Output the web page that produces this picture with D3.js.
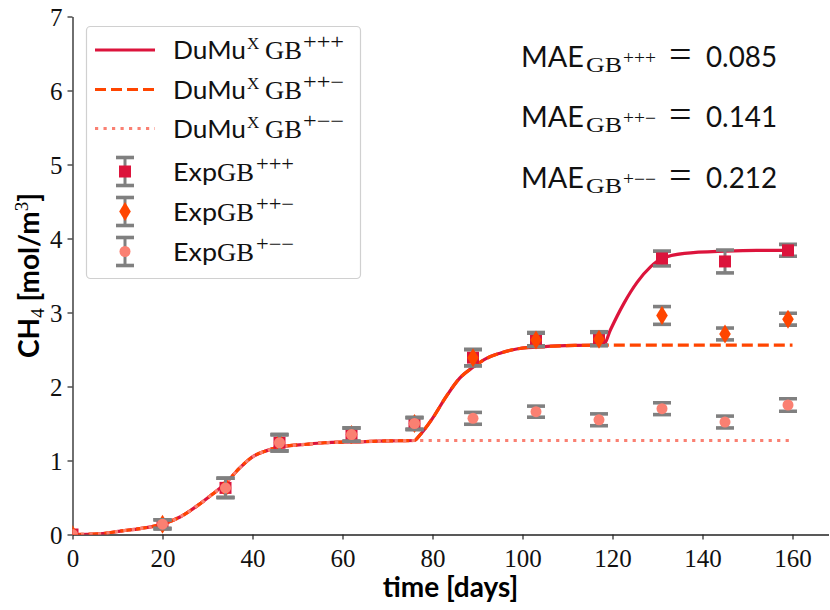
<!DOCTYPE html>
<html><head><meta charset="utf-8">
<script src="https://cdn.jsdelivr.net/npm/d3@7"></script>
<style>body{margin:0;background:#fff}</style>
</head><body>
<svg id="chart" width="830" height="610"></svg>
<script>
// ---- data ----
const days    = [0, 20, 34, 46, 62, 76, 89, 103, 117, 131, 145, 159];
const expPPP  = [0, 0.14, 0.63, 1.24, 1.35, 1.50, 2.39, 2.64, 2.65, 3.73, 3.69, 3.84];
const errPPP  = [0.02, 0.06, 0.13, 0.11, 0.09, 0.08, 0.11, 0.09, 0.09, 0.10, 0.155, 0.08];
const expPPM  = [0, 0.14, 0.63, 1.24, 1.35, 1.50, 2.39, 2.63, 2.64, 2.96, 2.71, 2.91];
const errPPM  = [0.02, 0.06, 0.13, 0.11, 0.09, 0.08, 0.11, 0.09, 0.09, 0.12, 0.08, 0.08];
const expPMM  = [0, 0.14, 0.63, 1.24, 1.35, 1.50, 1.57, 1.66, 1.55, 1.70, 1.52, 1.75];
const errPMM  = [0.02, 0.06, 0.13, 0.11, 0.09, 0.08, 0.08, 0.075, 0.08, 0.08, 0.08, 0.085];

const simDaysPPP = [0, 6, 11, 15, 20, 24, 28, 31, 34, 37, 40, 43, 46, 52, 56, 62, 70, 76,
                    77, 80, 83, 86, 89, 92, 95, 99, 105, 112, 118,
                    119.5, 122.5, 125.5, 128.5, 131, 136, 145, 152, 160];
const simPPP     = [0, 0.01, 0.05, 0.08, 0.14, 0.24, 0.40, 0.54, 0.69, 0.89, 1.05, 1.13, 1.18, 1.22, 1.24, 1.25, 1.265, 1.27,
                    1.33, 1.57, 1.86, 2.11, 2.26, 2.38, 2.45, 2.51, 2.54, 2.555, 2.56,
                    2.76, 3.12, 3.41, 3.62, 3.73, 3.80, 3.83, 3.84, 3.84];
const simDaysPPM = [0, 6, 11, 15, 20, 24, 28, 31, 34, 37, 40, 43, 46, 52, 56, 62, 70, 76,
                    77, 80, 83, 86, 89, 92, 95, 99, 105, 112, 118, 160];
const simPPM     = [0, 0.01, 0.05, 0.08, 0.14, 0.24, 0.40, 0.54, 0.69, 0.89, 1.05, 1.13, 1.18, 1.22, 1.24, 1.25, 1.265, 1.27,
                    1.33, 1.57, 1.86, 2.11, 2.26, 2.38, 2.45, 2.51, 2.54, 2.555, 2.56, 2.56];
const simDaysPMM = [0, 6, 11, 15, 20, 24, 28, 31, 34, 37, 40, 43, 46, 52, 56, 62, 70, 76, 160];
const simPMM     = [0, 0.01, 0.05, 0.08, 0.14, 0.24, 0.40, 0.54, 0.69, 0.89, 1.05, 1.13, 1.18, 1.22, 1.24, 1.25, 1.265, 1.27, 1.27];

const xTicks = [0, 20, 40, 60, 80, 100, 120, 140, 160];
const yTicks = [0, 1, 2, 3, 4, 5, 6, 7];
const seriesSup  = ["+++", "++\u2212", "+\u2212\u2212"];
const maeValues  = ["0.085", "0.141", "0.212"];

// ---- styles ----
const C_PPP = "#DC143C", C_PPM = "#FF4500", C_PMM = "#FA8072", C_ERR = "#808080";
const SANS = "Lato, 'DejaVu Sans', sans-serif";
const SERIF = "'Liberation Serif', 'DejaVu Serif', serif";

const svg = d3.select("#chart");
const x = d3.scaleLinear().domain([0, 168]).range([72.5, 828.5]);
const y = d3.scaleLinear().domain([0, 7]).range([534.5, 16.5]);

svg.append("defs").append("clipPath").attr("id", "plotclip")
  .append("rect").attr("x", x(0)).attr("y", y(7)).attr("width", x(168) - x(0)).attr("height", y(0) - y(7));

// axes
const gx = svg.append("g").attr("transform", `translate(0,${y(0)})`)
  .call(d3.axisBottom(x).tickValues(xTicks).tickSize(5).tickSizeOuter(0).tickFormat(d3.format("d")));
gx.selectAll("text").attr("y", 32).attr("dy", 0);
const gy = svg.append("g").attr("transform", `translate(${x(0)},0)`)
  .call(d3.axisLeft(y).tickValues(yTicks).tickSize(5).tickSizeOuter(0).tickPadding(5).tickFormat(d3.format("d")));
gy.selectAll("text").attr("dy", "0.34em");
[gx, gy].forEach(g => {
  g.select(".domain").attr("stroke", "#222").attr("stroke-width", 1.3);
  g.selectAll(".tick line").attr("stroke", "#222").attr("stroke-width", 1.2);
  g.selectAll("text").attr("font-family", SERIF).attr("font-size", 25).attr("fill", "#111");
});

// axis labels
svg.append("text").attr("x", x(84)).attr("y", 597).attr("text-anchor", "middle")
  .attr("font-family", SANS).attr("font-weight", "bold").attr("font-size", 28)
  .text("time [days]");
const yl = svg.append("text").attr("transform", `translate(39,${y(3.5)}) rotate(-90)`)
  .attr("text-anchor", "middle").attr("font-family", SANS).attr("font-weight", "bold").attr("font-size", 28);
yl.append("tspan").text("CH");
yl.append("tspan").attr("font-family", SERIF).attr("font-weight", "normal").attr("font-size", 19).attr("dy", 5).text("4");
yl.append("tspan").attr("dy", -5).text(" [mol/m");
yl.append("tspan").attr("font-family", SERIF).attr("font-weight", "normal").attr("font-size", 19).attr("dy", -11).text("3");
yl.append("tspan").attr("dy", 11).text("]");

// plot area
const plot = svg.append("g").attr("clip-path", "url(#plotclip)");
const line = d3.line().x(d => x(d[0])).y(d => y(d[1])).curve(d3.curveMonotoneX);

plot.append("path").datum(d3.zip(simDaysPPP, simPPP)).attr("d", line)
  .attr("fill", "none").attr("stroke", C_PPP).attr("stroke-width", 3.2);
plot.append("path").datum(d3.zip(simDaysPPM, simPPM)).attr("d", line)
  .attr("fill", "none").attr("stroke", C_PPM).attr("stroke-width", 3.2).attr("stroke-dasharray", "11,5");
plot.append("path").datum(d3.zip(simDaysPMM, simPMM)).attr("d", line)
  .attr("fill", "none").attr("stroke", C_PMM).attr("stroke-width", 3.2).attr("stroke-dasharray", "3.2,5.3");

function marker(g, type, cx, cy, color) {
  if (type === "square") {
    g.append("rect").attr("x", cx - 6).attr("y", cy - 6).attr("width", 12).attr("height", 12).attr("fill", color);
  } else if (type === "diamond") {
    g.append("path").attr("d", `M${cx},${cy - 9.5}L${cx + 5.8},${cy}L${cx},${cy + 9.5}L${cx - 5.8},${cy}Z`).attr("fill", color);
  } else {
    g.append("circle").attr("cx", cx).attr("cy", cy).attr("r", 5.5).attr("fill", color);
  }
}
function errbar(g, cx, yTop, yBot) {
  g.append("line").attr("x1", cx).attr("x2", cx).attr("y1", yTop).attr("y2", yBot)
    .attr("stroke", C_ERR).attr("stroke-width", 3);
  [yTop, yBot].forEach(yy => g.append("line").attr("x1", cx - 9).attr("x2", cx + 9)
    .attr("y1", yy).attr("y2", yy).attr("stroke", C_ERR).attr("stroke-width", 3.6));
}

const expSeries = [
  {vals: expPPP, errs: errPPP, type: "square",  color: C_PPP},
  {vals: expPPM, errs: errPPM, type: "diamond", color: C_PPM},
  {vals: expPMM, errs: errPMM, type: "circle",  color: C_PMM}
];
expSeries.forEach(s => {
  const g = plot.append("g");
  days.forEach((d, i) => {
    if (s.vals[i] > 0) errbar(g, x(d), y(s.vals[i] + s.errs[i]), y(s.vals[i] - s.errs[i]));
    marker(g, s.type, x(d), y(s.vals[i]), s.color);
  });
});

// legend
const lg = svg.append("g");
lg.append("rect").attr("x", 86.5).attr("y", 26.5).attr("width", 274).attr("height", 252).attr("rx", 4)
  .attr("fill", "white").attr("fill-opacity", 0.85).attr("stroke", "#d0d0d0").attr("stroke-width", 1.2);
const rowY = [50, 89.5, 128.5, 171.5, 211.5, 251.5];
const lineStyles = [{c: C_PPP, da: null}, {c: C_PPM, da: "11,5"}, {c: C_PMM, da: "3.2,5.3"}];
lineStyles.forEach((ls, i) => {
  const l = lg.append("line").attr("x1", 95).attr("x2", 155).attr("y1", rowY[i]).attr("y2", rowY[i])
    .attr("stroke", ls.c).attr("stroke-width", 3.2);
  if (ls.da) l.attr("stroke-dasharray", ls.da);
  const b = rowY[i] + 9;
  const t = lg.append("text").attr("y", b).attr("fill", "#111");
  t.append("tspan").attr("x", 173).attr("font-family", SANS).attr("font-size", 25)
    .attr("textLength", 73).attr("lengthAdjust", "spacingAndGlyphs").text("DuMu");
  t.append("tspan").attr("x", 247).attr("y", b - 10).attr("font-family", SERIF).attr("font-size", 17).text("X");
  t.append("tspan").attr("x", 265).attr("y", b).attr("font-family", SERIF).attr("font-size", 26)
    .attr("textLength", 37).attr("lengthAdjust", "spacingAndGlyphs").text("GB");
  t.append("tspan").attr("x", 303).attr("y", b - 10).attr("font-family", SERIF).attr("font-size", 21)
    .attr("textLength", 41).attr("lengthAdjust", "spacingAndGlyphs").text(seriesSup[i]);
});
expSeries.forEach((s, i) => {
  const cy = rowY[3 + i];
  errbar(lg, 125, cy - 14, cy + 14);
  marker(lg, s.type, 125, cy, s.color);
  const b = cy + 9;
  const t = lg.append("text").attr("y", b).attr("fill", "#111");
  t.append("tspan").attr("x", 173).attr("font-family", SANS).attr("font-size", 25)
    .attr("textLength", 44).attr("lengthAdjust", "spacingAndGlyphs").text("Exp");
  t.append("tspan").attr("x", 217).attr("font-family", SERIF).attr("font-size", 26)
    .attr("textLength", 37).attr("lengthAdjust", "spacingAndGlyphs").text("GB");
  t.append("tspan").attr("x", 256).attr("y", b - 10).attr("font-family", SERIF).attr("font-size", 21)
    .attr("textLength", 38).attr("lengthAdjust", "spacingAndGlyphs").text(seriesSup[i]);
});

// MAE annotations
const maeY = [66.7, 127, 188];
maeValues.forEach((v, i) => {
  const b = maeY[i];
  const t = svg.append("text").attr("y", b).attr("fill", "#111");
  t.append("tspan").attr("x", 521).attr("font-family", SANS).attr("font-size", 29)
    .attr("textLength", 63).attr("lengthAdjust", "spacingAndGlyphs").text("MAE");
  t.append("tspan").attr("x", 586).attr("y", b + 5).attr("font-family", SERIF).attr("font-size", 22)
    .attr("textLength", 36).attr("lengthAdjust", "spacingAndGlyphs").text("GB");
  t.append("tspan").attr("x", 623).attr("y", b - 3).attr("font-family", SERIF).attr("font-size", 18)
    .attr("textLength", 33).attr("lengthAdjust", "spacingAndGlyphs").text(seriesSup[i]);
  t.append("tspan").attr("x", 669).attr("y", b + 1).attr("font-family", SERIF).attr("font-size", 40).text("=");
  t.append("tspan").attr("x", 706).attr("y", b).attr("font-family", SANS).attr("font-size", 29)
    .attr("textLength", 71).attr("lengthAdjust", "spacingAndGlyphs").text(v);
});
</script>
</body></html>
